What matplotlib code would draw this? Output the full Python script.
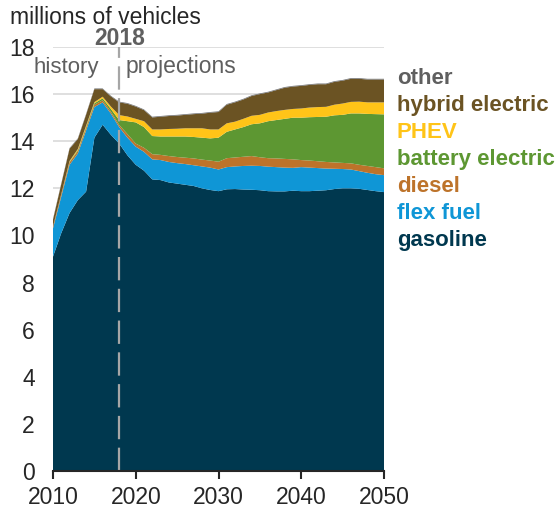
import matplotlib
matplotlib.use("Agg")
import matplotlib.pyplot as plt
import numpy as np

years = list(range(2010, 2051))

gasoline = [9.10, 10.10, 10.95, 11.50, 11.86, 14.15, 14.70, 14.27, 13.90,
            13.40, 13.00, 12.75, 12.38, 12.35, 12.25, 12.20, 12.15, 12.10, 12.00, 11.93,
            11.88, 11.96, 11.97, 11.95, 11.94, 11.92, 11.88, 11.87, 11.87, 11.90,
            11.88, 11.88, 11.90, 11.92, 11.97, 12.00, 12.00, 11.98, 11.93, 11.88, 11.84]
flex_top = [10.30, 11.65, 13.00, 13.48, 14.46, 15.45, 15.65, 15.17, 14.60,
            14.15, 13.77, 13.55, 13.23, 13.20, 13.12, 13.07, 13.03, 12.98, 12.93, 12.88,
            12.80, 12.90, 12.93, 12.95, 12.96, 12.95, 12.92, 12.90, 12.88, 12.87,
            12.90, 12.88, 12.86, 12.84, 12.83, 12.82, 12.80, 12.73, 12.66, 12.60, 12.56]
diesel_top = [10.38, 11.74, 13.10, 13.58, 14.56, 15.55, 15.74, 15.25, 14.69,
              14.30, 13.90, 13.72, 13.45, 13.42, 13.37, 13.33, 13.30, 13.27, 13.22, 13.18,
              13.13, 13.28, 13.31, 13.34, 13.37, 13.32, 13.28, 13.27, 13.25, 13.23,
              13.20, 13.18, 13.15, 13.12, 13.10, 13.08, 13.06, 13.00, 12.95, 12.90, 12.85]
bev_top = [10.38, 11.75, 13.12, 13.62, 14.61, 15.61, 15.82, 15.37, 14.90,
           14.85, 14.80, 14.60, 14.22, 14.20, 14.20, 14.20, 14.20, 14.18, 14.15, 14.12,
           14.15, 14.40, 14.50, 14.60, 14.72, 14.76, 14.85, 14.90, 14.95, 15.00,
           15.00, 15.02, 15.03, 15.04, 15.10, 15.12, 15.18, 15.18, 15.16, 15.15, 15.14]
phev_top = [10.38, 11.76, 13.16, 13.67, 14.66, 15.66, 15.89, 15.47, 15.11,
            15.05, 14.95, 14.85, 14.50, 14.50, 14.52, 14.53, 14.55, 14.55, 14.55, 14.50,
            14.50, 14.76, 14.83, 14.95, 15.08, 15.12, 15.22, 15.28, 15.33, 15.37,
            15.39, 15.43, 15.45, 15.46, 15.55, 15.60, 15.67, 15.68, 15.65, 15.65, 15.65]
total_top = [10.70, 12.21, 13.71, 14.12, 15.16, 16.24, 16.24, 15.93, 15.68,
             15.62, 15.50, 15.35, 15.04, 15.07, 15.10, 15.12, 15.15, 15.18, 15.20, 15.24,
             15.27, 15.58, 15.68, 15.80, 15.95, 16.03, 16.10, 16.20, 16.30, 16.35,
             16.38, 16.42, 16.45, 16.45, 16.55, 16.60, 16.68, 16.68, 16.65, 16.65, 16.65]
other = [0.03] * len(years)

labels = ["gasoline", "flex fuel", "diesel", "battery electric", "PHEV",
          "hybrid electric", "other"]
colors = ["#00384f", "#0f96d6", "#bd732a", "#5d9732", "#ffc418",
          "#6b5323", "#6d6e71"]
text_colors = ["#00384f", "#0f96d6", "#bd732a", "#5d9732", "#ffc418",
               "#6b5323", "#5f5f5f"]

g = np.array(gasoline)
f = np.array(flex_top)
d = np.array(diesel_top)
b = np.array(bev_top)
p = np.array(phev_top)
t = np.array(total_top)
o = np.array(other)
layers = [g, f - g, d - f, b - d, p - b, t - o - p, o]

plt.rcParams['font.family'] = ['Liberation Sans', 'DejaVu Sans']

fig = plt.figure(figsize=(5.6, 5.11), dpi=100)
ax = fig.add_axes([53/560, 40/511, 331/560, 424/511])

ax.stackplot(years, *layers, colors=colors, linewidth=0, zorder=2)

ax.set_xlim(2010, 2050)
ax.set_ylim(0, 18)
ax.set_yticks(range(0, 19, 2))
ax.set_xticks(range(2010, 2051, 10))
ax.yaxis.grid(True, color="#d9d9d9", linewidth=1.2, zorder=0)
ax.set_axisbelow(True)
for s in ["left", "right", "top"]:
    ax.spines[s].set_visible(False)
ax.spines["bottom"].set_color("#262626")
ax.spines["bottom"].set_linewidth(1.5)
ax.spines["bottom"].set_zorder(5)
ax.tick_params(axis="y", length=0, pad=13, labelsize=16.5, labelcolor="#262626")
ax.tick_params(axis="x", length=6, width=1.5, color="#262626", pad=5,
               labelsize=16.5, labelcolor="#262626")

ax.axvline(2018, ymin=0, ymax=1, color="#a6a6a6", linewidth=1.6,
           dashes=(10.5, 3.8), zorder=4)

ax.text(2018, 18.08, "2018", ha="center", va="baseline", fontsize=16.5,
        fontweight="bold", color="#5f5f5f")
ax.text(2015.5, 16.88, "history", ha="right", va="baseline", fontsize=16,
        color="#5f5f5f")
ax.text(2018.8, 16.88, "projections", ha="left", va="baseline", fontsize=16.5,
        color="#5f5f5f")

fig.text(10/560, 1 - 23.5/511, "millions of vehicles", ha="left", va="baseline",
         fontsize=16.5, color="#262626")

leg_base = [246, 219, 192, 165, 138, 111, 84]
for lab, c, yy in zip(labels, text_colors, leg_base):
    fig.text(397/560, 1 - yy/511, lab, ha="left", va="baseline", fontsize=16,
             fontweight="bold", color=c)

fig.savefig("out.png", dpi=100)
